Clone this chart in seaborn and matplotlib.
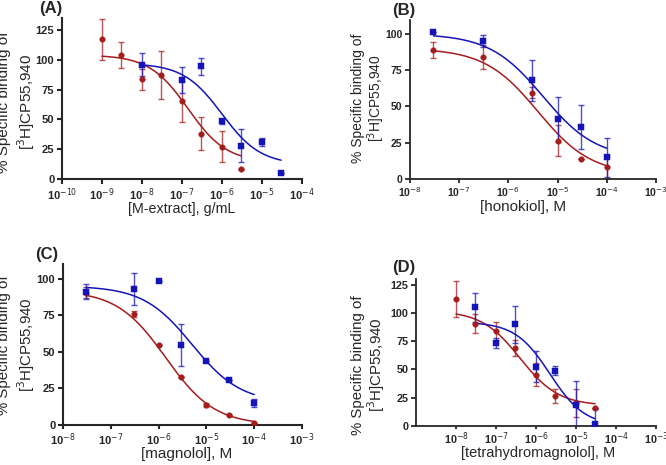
import numpy as np
import matplotlib
matplotlib.use("Agg")
import matplotlib.pyplot as plt
import seaborn as sns

# ---- data ----
# (A) M-extract, g/mL
a_red_x = [1e-9, 3e-9, 1e-8, 3e-8, 1e-7, 3e-7, 1e-6, 3e-6]
a_red_y = [117, 104, 83.5, 87, 65, 38, 27, 8.5]
a_red_e = [17, 11, 9, 20, 17, 14, 13, 0]
a_blue_x = [1e-8, 1e-7, 3e-7, 1e-6, 3e-6, 1e-5, 3e-5]
a_blue_y = [96, 83, 94.5, 48.5, 28, 31, 5]
a_blue_e = [10, 11, 7, 2, 14, 3.5, 0]

# (B) honokiol, M
b_red_x = [3e-8, 3e-7, 3e-6, 1e-5, 3e-5, 1e-4]
b_red_y = [89, 84, 59.5, 26.5, 14, 8]
b_red_e = [5.5, 8, 4, 11, 0, 8]
b_blue_x = [3e-8, 3e-7, 3e-6, 1e-5, 3e-5, 1e-4]
b_blue_y = [101, 95, 68, 41, 36, 15]
b_blue_e = [0, 4, 14, 15.5, 15, 13.5]

# (C) magnolol, M
c_red_x = [3e-8, 3e-7, 1e-6, 3e-6, 1e-5, 3e-5, 1e-4]
c_red_y = [90.5, 76, 55, 32.5, 13.5, 7, 1.5]
c_red_e = [4, 2, 0, 0, 1.5, 0, 0]
c_blue_x = [3e-8, 3e-7, 1e-6, 3e-6, 1e-5, 3e-5, 1e-4]
c_blue_y = [91, 93, 98.5, 54.5, 43.5, 31, 15]
c_blue_e = [5, 11, 0, 14.5, 0, 0, 3]

# (D) tetrahydromagnolol, M
d_red_x = [1e-8, 3e-8, 1e-7, 3e-7, 1e-6, 3e-6, 1e-5, 3e-5]
d_red_y = [112.5, 90.5, 84, 69, 45.5, 26.5, 20.5, 15.5]
d_red_e = [16, 8.5, 8, 7, 10, 6, 12.5, 0]
d_blue_x = [3e-8, 1e-7, 3e-7, 1e-6, 3e-6, 1e-5, 3e-5]
d_blue_y = [105, 73.5, 90, 52.5, 49, 19, 2]
d_blue_e = [13, 4.5, 16.5, 14, 4, 20.5, 13]

# fitted sigmoid parameters: top, bottom, log10 IC50, hill slope
a_red_fit = [104, 14, -6.85, -0.9]
a_blue_fit = [97, 12, -6.0, -0.9]
b_red_fit = [90, 3, -5.4, -0.8]
b_blue_fit = [100, 14, -5.3, -0.8]
c_red_fit = [92, 0, -5.85, -0.85]
c_blue_fit = [95, 15, -5.3, -0.85]
d_red_fit = [102, 18, -6.4, -0.9]
d_blue_fit = [92, 0, -5.65, -1.0]

RED = "#a51c1c"
BLUE = "#1414b8"
YLABEL = "% Specific binding of\n[$^3$H]CP55,940"


def sigmoid(x, p):
    top, bottom, logc, hill = p
    return bottom + (top - bottom) / (1 + 10 ** ((logc - np.log10(x)) * hill))


def draw(ax, x, y, e, fit, color, marker):
    x = np.array(x)
    xs = np.logspace(np.log10(x.min()), np.log10(x.max()), 200)
    sns.lineplot(x=xs, y=sigmoid(xs, fit), color=color, lw=1.1, ax=ax)
    ax.errorbar(x, y, yerr=e, fmt="none", ecolor=color, elinewidth=1.0,
                capsize=2.5, capthick=1.0, alpha=0.75)
    sns.scatterplot(x=x, y=y, color=color, marker=marker, s=16,
                    edgecolor=color, ax=ax, zorder=5)


sns.set_style("ticks")
plt.rcParams["font.family"] = ["Liberation Sans", "DejaVu Sans"]

fig = plt.figure(figsize=(6.66, 4.65), dpi=100)
W, H = 666, 465


def add_ax(l, r, t, b):
    return fig.add_axes([l / W, 1 - b / H, (r - l) / W, (b - t) / H])


def fpos(x, y):
    return x / W, 1 - y / H


panels = [
    dict(box=(62, 302, 18, 179), red=(a_red_x, a_red_y, a_red_e, a_red_fit),
         blue=(a_blue_x, a_blue_y, a_blue_e, a_blue_fit), xlim=(-10, -4),
         ylim=135, yt=[0, 25, 50, 75, 100, 125], lab="(A)", labpos=(62, 9),
         xlabel="[M-extract], g/mL", xlpos=(182, 209), xlsize=10.3,
         ylpos=(17, 102), ylsize=11.0, ylsp=1.2, tsize=8.0, lw=1.5,
         tlen=3.5, tpad=2, first=-10),
    dict(box=(410, 656, 20, 179), red=(b_red_x, b_red_y, b_red_e, b_red_fit),
         blue=(b_blue_x, b_blue_y, b_blue_e, b_blue_fit), xlim=(-8, -3),
         ylim=109.5, yt=[0, 25, 50, 75, 100], lab="(B)", labpos=(415, 11),
         xlabel="[honokiol], M", xlpos=(523, 207), xlsize=11.0,
         ylpos=(369, 98), ylsize=10.0, ylsp=1.05, tsize=7.5, lw=1.3,
         tlen=3.0, tpad=1.5, first=-8),
    dict(box=(63, 302, 264, 425), red=(c_red_x, c_red_y, c_red_e, c_red_fit),
         blue=(c_blue_x, c_blue_y, c_blue_e, c_blue_fit), xlim=(-8, -3),
         ylim=110, yt=[0, 25, 50, 75, 100], lab="(C)", labpos=(58, 254),
         xlabel="[magnolol], M", xlpos=(187, 454), xlsize=11.0,
         ylpos=(17, 345), ylsize=10.8, ylsp=1.2, tsize=8.0, lw=1.5,
         tlen=3.0, tpad=1.5, first=-8),
    dict(box=(416, 656, 279, 426), red=(d_red_x, d_red_y, d_red_e, d_red_fit),
         blue=(d_blue_x, d_blue_y, d_blue_e, d_blue_fit), xlim=(-9, -3),
         ylim=130, yt=[0, 25, 50, 75, 100, 125], lab="(D)", labpos=(415, 267),
         xlabel="[tetrahydromagnolol], M", xlpos=(538, 453), xlsize=10.5,
         ylpos=(369, 365), ylsize=10.8, ylsp=1.05, tsize=7.8, lw=1.3,
         tlen=2.0, tpad=1, first=-8),
]

for p in panels:
    ax = add_ax(*p["box"])
    draw(ax, *p["red"], RED, "o")
    draw(ax, *p["blue"], BLUE, "s")
    ax.set_xscale("log")
    lo, hi = p["xlim"]
    ax.set_xlim(10.0 ** lo, 10.0 ** hi)
    ax.set_ylim(0, p["ylim"])
    ax.set_yticks(p["yt"])
    ax.set_xticks([10.0 ** k for k in range(p["first"], hi + 1)])
    ax.set_xticklabels([f"10$^{{{k}}}$" for k in range(p["first"], hi + 1)])
    ax.xaxis.set_minor_locator(matplotlib.ticker.NullLocator())
    for s in ["top", "right"]:
        ax.spines[s].set_visible(False)
    for s in ["left", "bottom"]:
        ax.spines[s].set_linewidth(p["lw"])
    ax.tick_params(width=p["lw"], length=3.5, labelsize=p["tsize"], pad=2)
    ax.tick_params(axis="x", length=p["tlen"], pad=p["tpad"])
    for t in ax.get_xticklabels() + ax.get_yticklabels():
        t.set_fontweight("bold")

    ax.set_xlabel(p["xlabel"], fontsize=p["xlsize"], va="center")
    ax.xaxis.set_label_coords(*fpos(*p["xlpos"]), transform=fig.transFigure)
    ax.set_ylabel(YLABEL, fontsize=p["ylsize"], linespacing=p["ylsp"],
                  va="center")
    ax.yaxis.set_label_coords(*fpos(*p["ylpos"]), transform=fig.transFigure)

    fig.text(*fpos(*p["labpos"]), p["lab"], fontsize=12, fontweight="bold",
             ha="right", va="center")

fig.savefig("out.png", dpi=100)
